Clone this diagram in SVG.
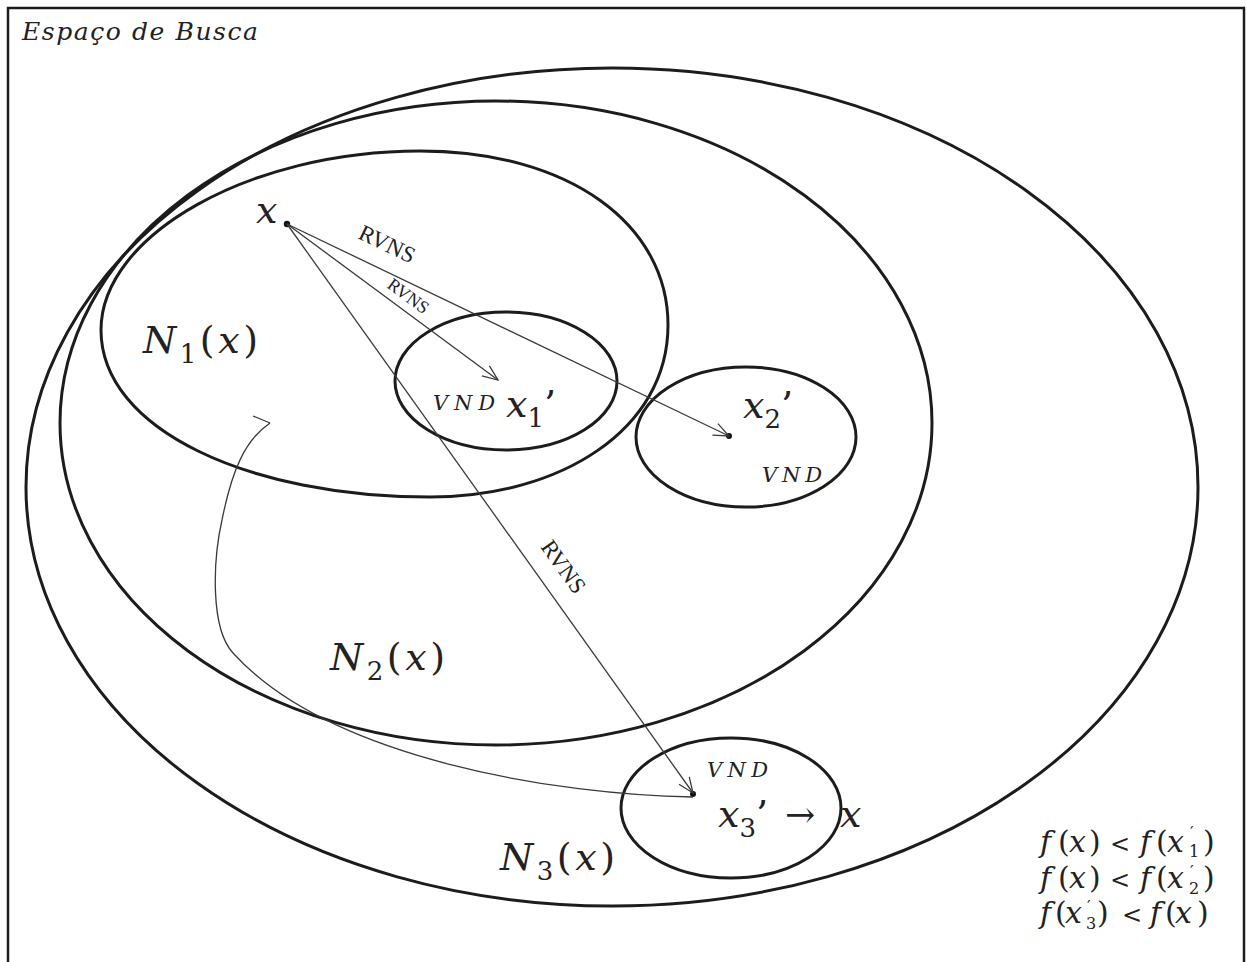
<svg xmlns="http://www.w3.org/2000/svg" width="1246" height="962" viewBox="0 0 1246 962">
<defs>
<style>
.big{fill:none;stroke:#1c1c1c;stroke-width:3}
.thin{fill:none;stroke:#3a3a3a;stroke-width:1.3}
.m{font-family:"DejaVu Serif","Liberation Serif",serif;fill:#222}
.r{font-family:"Liberation Serif","Times New Roman",serif;fill:#222}
.i{font-style:italic}
.f{font-family:"DejaVu Serif","Liberation Serif",serif;fill:#222;font-size:30px}
.lt{font-size:24px}
.s{font-size:16px}
</style>
<marker id="open" viewBox="0 0 20 20" refX="19" refY="10" markerWidth="18" markerHeight="18" markerUnits="userSpaceOnUse" orient="auto">
<path d="M2,3 L19,10 L2,17" fill="none" stroke="#3a3a3a" stroke-width="1.4"/>
</marker>
</defs>
<rect width="1246" height="962" fill="#fff"/>
<path d="M8,962 L8,8 L1244,8 L1244,962" fill="none" stroke="#1c1c1c" stroke-width="2.5"/>
<text class="m i" x="22" y="40" font-size="25" textLength="236" lengthAdjust="spacing">Espaço de Busca</text>

<g id="N3"><ellipse class="big" cx="612" cy="487" rx="586" ry="419"/>
<text class="m" x="500" y="870" font-size="38" textLength="115"><tspan class="i">N</tspan><tspan font-size="26" dy="10">3</tspan><tspan dy="-10">(</tspan><tspan class="i">x</tspan>)</text></g>
<g id="N2"><ellipse class="big" cx="496" cy="423" rx="436" ry="322"/>
<text class="m" x="330" y="670" font-size="38" textLength="115"><tspan class="i">N</tspan><tspan font-size="26" dy="10">2</tspan><tspan dy="-10">(</tspan><tspan class="i">x</tspan>)</text></g>
<g id="N1"><path class="big" d="M101,330 C101,235 250,151 420,151 C570,151 668,225 668,325 C668,430 560,497 430,497 C250,497 101,430 101,330 Z"/>
<text class="m" x="143" y="353" font-size="38" textLength="115"><tspan class="i">N</tspan><tspan font-size="26" dy="10">1</tspan><tspan dy="-10">(</tspan><tspan class="i">x</tspan>)</text></g>

<g id="x1p"><ellipse class="big" cx="506" cy="381" rx="111" ry="69"/>
<text class="m i" x="433" y="410" font-size="21" textLength="62" lengthAdjust="spacing">VND</text>
<text class="m" x="506" y="417" font-size="38"><tspan class="i">x</tspan><tspan font-size="26" dy="10">1</tspan><tspan dy="-10">’</tspan></text></g>
<g id="x2p"><ellipse class="big" cx="746" cy="437" rx="110" ry="70"/>
<text class="m i" x="762" y="482" font-size="21" textLength="60" lengthAdjust="spacing">VND</text>
<text class="m" x="743" y="418" font-size="38"><tspan class="i">x</tspan><tspan font-size="26" dy="10">2</tspan><tspan dy="-10">’</tspan></text>
<circle cx="729" cy="436" r="3" fill="#111"/></g>
<g id="x3p"><ellipse class="big" cx="731" cy="808" rx="110" ry="70"/>
<text class="m i" x="707" y="777" font-size="21" textLength="61" lengthAdjust="spacing">VND</text>
<text class="m" x="718" y="827" font-size="38"><tspan class="i">x</tspan><tspan font-size="26" dy="10">3</tspan><tspan dy="-10">’</tspan><tspan x="785" font-size="36">→</tspan><tspan class="i" x="840">x</tspan></text>
<circle cx="693" cy="794" r="3" fill="#111"/></g>

<g id="x0"><text class="m i" x="256" y="223" font-size="38">x</text>
<circle cx="287" cy="224" r="3.2" fill="#111"/></g>

<g id="connectors">
<line class="thin" x1="287" y1="224" x2="498" y2="380" marker-end="url(#open)"/>
<line class="thin" x1="287" y1="224" x2="729" y2="436" marker-end="url(#open)"/>
<line class="thin" x1="287" y1="224" x2="693" y2="793" marker-end="url(#open)"/>
<path class="thin" d="M693,797 C560,795 330,760 233,653 C210,628 213,560 222,520 C232,470 245,440 270,423"/>
<path class="thin" d="M270,423 L253,416"/>
<text class="r" font-size="23" transform="translate(357,238) rotate(25.6)">RVNS</text>
<text class="r" font-size="18" transform="translate(386,287) rotate(36.5)">RVNS</text>
<text class="r" font-size="23" transform="translate(540,547) rotate(54.5)">RVNS</text>
</g>

<g id="formulas">
<text class="f" y="852"><tspan class="i" x="1040">f</tspan><tspan x="1058">(</tspan><tspan class="i" x="1069">x</tspan><tspan x="1089">)</tspan><tspan class="lt" x="1110">&lt;</tspan><tspan class="i" x="1140">f</tspan><tspan x="1156">(</tspan><tspan class="i" x="1167">x</tspan><tspan x="1203">)</tspan></text>
<text class="f s" x="1189" y="857">1</text><text class="f s" x="1190" y="838">′</text>
<text class="f" y="888"><tspan class="i" x="1040">f</tspan><tspan x="1058">(</tspan><tspan class="i" x="1069">x</tspan><tspan x="1089">)</tspan><tspan class="lt" x="1110">&lt;</tspan><tspan class="i" x="1140">f</tspan><tspan x="1156">(</tspan><tspan class="i" x="1167">x</tspan><tspan x="1203">)</tspan></text>
<text class="f s" x="1189" y="894">2</text><text class="f s" x="1190" y="877">′</text>
<text class="f" y="923"><tspan class="i" x="1040">f</tspan><tspan x="1055">(</tspan><tspan class="i" x="1065">x</tspan><tspan x="1097">)</tspan><tspan class="lt" x="1122">&lt;</tspan><tspan class="i" x="1150">f</tspan><tspan x="1165">(</tspan><tspan class="i" x="1175">x</tspan><tspan x="1197">)</tspan></text>
<text class="f s" x="1086" y="929">3</text><text class="f s" x="1087" y="912">′</text>
</g>
</svg>
